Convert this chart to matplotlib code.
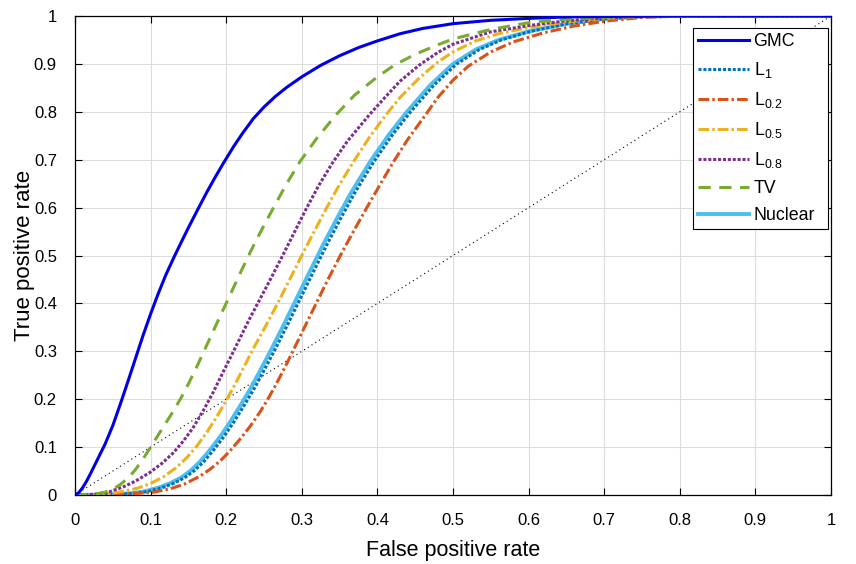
import matplotlib
matplotlib.use("Agg")
import matplotlib.pyplot as plt
from matplotlib.patches import Rectangle

plt.rcParams['font.family'] = ['Liberation Sans', 'DejaVu Sans']
plt.rcParams['mathtext.fontset'] = 'custom'
plt.rcParams['mathtext.rm'] = 'Liberation Sans'
plt.rcParams['mathtext.default'] = 'regular'

# ROC curves (false positive rate, true positive rate)
gmc_x = [0, 0.005, 0.01, 0.015, 0.02, 0.03, 0.04, 0.05, 0.06, 0.07, 0.08, 0.09,
         0.1, 0.11, 0.12, 0.132, 0.14, 0.15, 0.163, 0.175, 0.186, 0.196, 0.21,
         0.222, 0.236, 0.25, 0.265, 0.28, 0.3, 0.325, 0.35, 0.375, 0.4, 0.43,
         0.46, 0.5, 0.55, 0.6, 0.65, 0.7, 0.8, 1]
gmc_y = [0, 0.005, 0.015, 0.028, 0.043, 0.075, 0.107, 0.145, 0.19, 0.237, 0.285, 0.333,
         0.378, 0.42, 0.459, 0.5, 0.526, 0.558, 0.598, 0.634, 0.665, 0.692, 0.728,
         0.756, 0.786, 0.81, 0.832, 0.851, 0.873, 0.897, 0.917, 0.934, 0.948, 0.963,
         0.974, 0.984, 0.991, 0.995, 0.998, 0.999, 1, 1]

l1_x = [0, 0.045, 0.075, 0.095, 0.115, 0.13, 0.145, 0.158, 0.17, 0.183, 0.197,
        0.21, 0.223, 0.237, 0.25, 0.265, 0.281, 0.298, 0.316, 0.333, 0.351, 0.369,
        0.395, 0.42, 0.444, 0.475, 0.505, 0.535, 0.564, 0.603, 0.652, 0.7, 0.75, 0.8, 1]
l1_y = [0, 0.001, 0.003, 0.007, 0.015, 0.024, 0.036, 0.051, 0.069, 0.093, 0.122,
        0.152, 0.185, 0.222, 0.26, 0.305, 0.355, 0.41, 0.468, 0.522, 0.576, 0.628,
        0.695, 0.752, 0.8, 0.856, 0.9, 0.93, 0.95, 0.968, 0.984, 0.994, 0.999, 1, 1]

l02_x = [0, 0.05, 0.08, 0.104, 0.126, 0.145, 0.165, 0.178, 0.192, 0.205, 0.218,
         0.232, 0.245, 0.255, 0.265, 0.28, 0.298, 0.315, 0.333, 0.351, 0.364, 0.386,
         0.405, 0.421, 0.44, 0.462, 0.48, 0.5, 0.52, 0.55, 0.58, 0.62, 0.66, 0.7,
         0.75, 0.8, 1]
l02_y = [0, 0.001, 0.003, 0.006, 0.013, 0.023, 0.039, 0.053, 0.071, 0.092, 0.116,
         0.144, 0.174, 0.2, 0.228, 0.274, 0.332, 0.387, 0.445, 0.5, 0.538, 0.6,
         0.652, 0.695, 0.742, 0.79, 0.83, 0.866, 0.895, 0.925, 0.946, 0.965, 0.979, 0.989,
         0.997, 1, 1]

l05_x = [0, 0.03, 0.05, 0.065, 0.082, 0.1, 0.117, 0.133, 0.148, 0.161, 0.174,
         0.187, 0.2, 0.214, 0.225, 0.236, 0.254, 0.269, 0.284, 0.3, 0.317, 0.333,
         0.348, 0.37, 0.39, 0.412, 0.43, 0.455, 0.48, 0.5, 0.53, 0.56, 0.6, 0.65,
         0.7, 0.75, 0.8, 1]
l05_y = [0, 0.001, 0.004, 0.008, 0.014, 0.024, 0.038, 0.056, 0.078, 0.102, 0.13,
         0.162, 0.197, 0.238, 0.272, 0.306, 0.358, 0.403, 0.45, 0.5, 0.552, 0.6,
         0.643, 0.7, 0.748, 0.795, 0.83, 0.87, 0.904, 0.925, 0.948, 0.963, 0.976, 0.988,
         0.995, 0.999, 1, 1]

l08_x = [0, 0.02, 0.03, 0.046, 0.064, 0.08, 0.099, 0.115, 0.13, 0.143, 0.156,
         0.17, 0.183, 0.196, 0.209, 0.22, 0.229, 0.245, 0.26, 0.276, 0.291, 0.306,
         0.322, 0.34, 0.36, 0.39, 0.41, 0.43, 0.455, 0.48, 0.5, 0.55, 0.6, 0.65,
         0.7, 0.75, 0.8, 1]
l08_y = [0, 0.001, 0.002, 0.007, 0.017, 0.029, 0.047, 0.066, 0.088, 0.112, 0.14,
         0.177, 0.215, 0.257, 0.298, 0.333, 0.362, 0.41, 0.455, 0.504, 0.551, 0.598,
         0.645, 0.692, 0.738, 0.795, 0.83, 0.864, 0.897, 0.924, 0.941, 0.967, 0.98, 0.99,
         0.996, 0.999, 1, 1]

tv_x = [0, 0.02, 0.03, 0.04, 0.05, 0.06, 0.07, 0.08, 0.09, 0.1, 0.11, 0.12, 0.13,
        0.14, 0.15, 0.16, 0.17, 0.181, 0.194, 0.207, 0.22, 0.234, 0.249, 0.265,
        0.28, 0.298, 0.32, 0.346, 0.37, 0.4, 0.423, 0.45, 0.48, 0.5, 0.55, 0.6,
        0.65, 0.7, 0.75, 0.8, 1]
tv_y = [0, 0.001, 0.003, 0.006, 0.012, 0.022, 0.035, 0.053, 0.075, 0.1, 0.125, 0.15, 0.175,
        0.202, 0.232, 0.264, 0.298, 0.336, 0.38, 0.424, 0.468, 0.514, 0.56, 0.607,
        0.65, 0.697, 0.745, 0.795, 0.835, 0.873, 0.898, 0.92, 0.94, 0.952, 0.972, 0.986,
        0.993, 0.997, 0.999, 1, 1]

nuc_x = [0, 0.04, 0.07, 0.09, 0.11, 0.125, 0.14, 0.153, 0.165, 0.178, 0.192,
         0.205, 0.218, 0.232, 0.245, 0.26, 0.276, 0.293, 0.311, 0.328, 0.346, 0.364,
         0.39, 0.415, 0.439, 0.47, 0.5, 0.53, 0.56, 0.6, 0.65, 0.7, 0.75, 0.8, 1]
nuc_y = [0, 0.001, 0.003, 0.007, 0.015, 0.024, 0.036, 0.051, 0.069, 0.093, 0.122,
         0.152, 0.185, 0.222, 0.26, 0.305, 0.355, 0.41, 0.468, 0.522, 0.576, 0.628,
         0.695, 0.752, 0.8, 0.856, 0.9, 0.93, 0.95, 0.968, 0.984, 0.994, 0.999, 1, 1]

diag = [0, 1]
ticks = [0, 0.1, 0.2, 0.3, 0.4, 0.5, 0.6, 0.7, 0.8, 0.9, 1]
tick_labels = ['0', '0.1', '0.2', '0.3', '0.4', '0.5', '0.6', '0.7', '0.8', '0.9', '1']

fig = plt.figure(figsize=(8.56, 5.64), dpi=100)
ax = fig.add_axes([75 / 856, 69 / 564, 756 / 856, 479 / 564])

dashdot = (0, (3.5, 1.0, 0.8, 1.0))
dots = (0, (1, 0.6))

ax.plot(diag, diag, color='k', lw=0.8, ls=(0, (1, 3)), zorder=1)
ax.plot(gmc_x, gmc_y, color='#0000E6', lw=2.2, label='GMC', zorder=5)
ax.plot(l1_x, l1_y, color='#0072BD', lw=2.2, ls=dots, label='L$_{1}$', zorder=4)
ax.plot(l02_x, l02_y, color='#D95319', lw=2.2, ls=dashdot, label='L$_{0.2}$', zorder=4)
ax.plot(l05_x, l05_y, color='#EDB120', lw=2.2, ls=dashdot, label='L$_{0.5}$', zorder=4)
ax.plot(l08_x, l08_y, color='#7E2F8E', lw=2.2, ls=dots, label='L$_{0.8}$', zorder=4)
ax.plot(tv_x, tv_y, color='#77AC30', lw=2.2, ls=(0, (4, 2.8)), label='TV', zorder=4)
ax.plot(nuc_x, nuc_y, color='#4DBEEE', lw=2.8, label='Nuclear', zorder=3)

ax.set_xlim(0, 1)
ax.set_ylim(0, 1)
ax.set_xticks(ticks)
ax.set_xticklabels(tick_labels)
ax.set_yticks(ticks)
ax.set_yticklabels(tick_labels)
ax.tick_params(direction='in', length=5, width=0.8, top=True, right=True,
               labelsize=12, pad=13)
ax.grid(True, color='#dcdcdc', lw=0.8)
ax.set_axisbelow(True)
for s in ax.spines.values():
    s.set_linewidth(0.9)

ax.set_xlabel('False positive rate', fontsize=15.5, labelpad=8.5)
ax.set_ylabel('True positive rate', fontsize=16, labelpad=-0.5)

leg = ax.legend(loc='upper right', bbox_to_anchor=(0.986, 0.975), fontsize=12.75,
                handlelength=2.9, handletextpad=0.25, labelspacing=0.56,
                borderpad=0.3, borderaxespad=0, fancybox=False, framealpha=1,
                edgecolor='k')
leg.get_frame().set_visible(False)
leg.set_zorder(6)

# MATLAB-style legend box, with a bit of extra room right of the labels
fig.canvas.draw()
bb = leg.get_window_extent().transformed(fig.transFigure.inverted())
extra = 8 / 856
box = Rectangle((bb.x0, bb.y0), bb.width + extra, bb.height,
                transform=fig.transFigure, facecolor='white',
                edgecolor='k', lw=0.8, zorder=5.5)
ax.add_artist(box)

fig.savefig('out.png', dpi=100)
